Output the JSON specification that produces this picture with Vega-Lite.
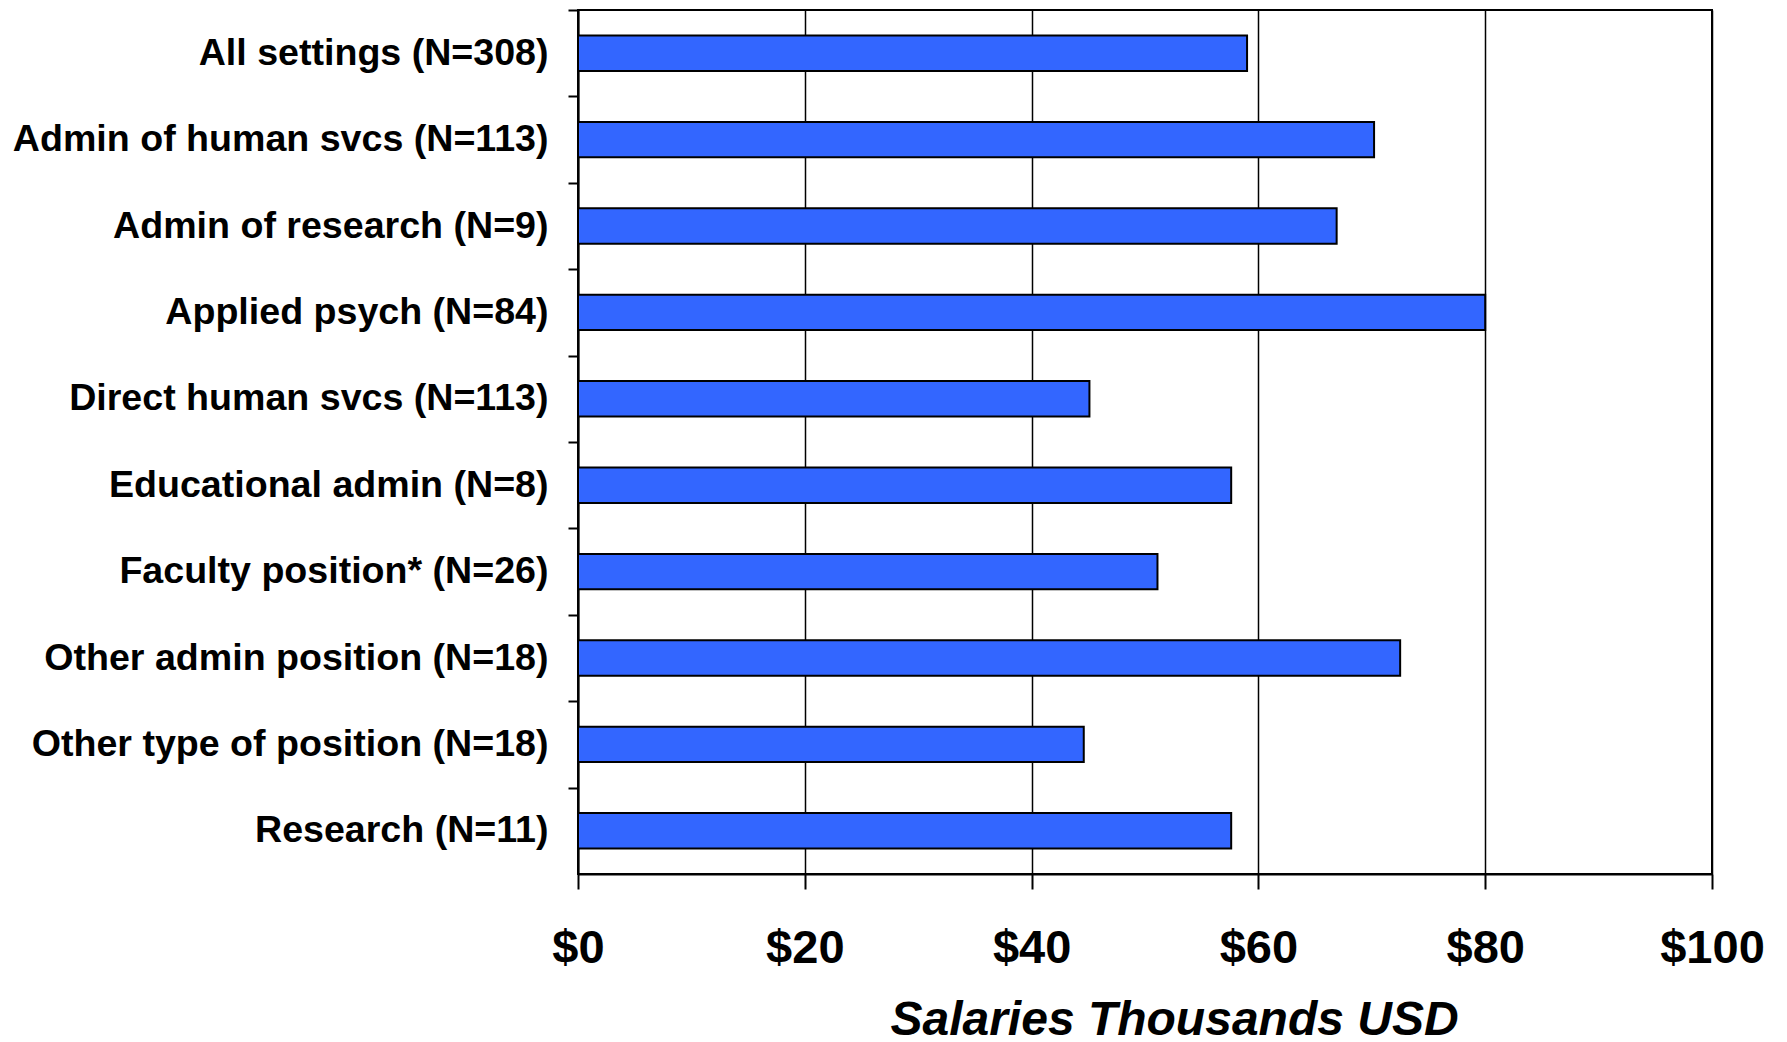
{
  "$schema": "https://vega.github.io/schema/vega-lite/v6.json",
  "width": 1134,
  "height": 864,
  "autosize": {"type": "none"},
  "padding": {"left": 578, "top": 10, "right": 75, "bottom": 168},
  "background": "white",
  "config": {
    "view": {"stroke": "black", "strokeWidth": 2},
    "font": "Liberation Sans"
  },
  "data": {
    "values": [
      {"setting": "All settings (N=308)", "salary": 59.0},
      {"setting": "Admin of human svcs (N=113)", "salary": 70.2},
      {"setting": "Admin of research (N=9)", "salary": 66.9},
      {"setting": "Applied psych (N=84)", "salary": 80.0},
      {"setting": "Direct human svcs (N=113)", "salary": 45.1},
      {"setting": "Educational admin (N=8)", "salary": 57.6},
      {"setting": "Faculty position* (N=26)", "salary": 51.1},
      {"setting": "Other admin position (N=18)", "salary": 72.5},
      {"setting": "Other type of position (N=18)", "salary": 44.6},
      {"setting": "Research (N=11)", "salary": 57.6}
    ]
  },
  "mark": {"type": "bar", "color": "#3366FF", "stroke": "black", "strokeWidth": 2},
  "encoding": {
    "y": {
      "field": "setting",
      "type": "nominal",
      "sort": null,
      "scale": {"paddingInner": 0.59, "paddingOuter": 0.295},
      "axis": {
        "title": null,
        "tickOffset": -43.2,
        "labelOffset": 43.2,
        "tickSize": 10,
        "tickColor": "black",
        "tickWidth": 2,
        "domainColor": "black",
        "domainWidth": 2,
        "labelFont": "Liberation Sans",
        "labelFontWeight": "bold",
        "labelFontSize": 37.6,
        "labelColor": "black",
        "labelPadding": 20,
        "labelLimit": 700
      }
    },
    "x": {
      "field": "salary",
      "type": "quantitative",
      "scale": {"domain": [0, 100], "nice": false},
      "axis": {
        "values": [0, 20, 40, 60, 80, 100],
        "labelExpr": "'$' + datum.value",
        "grid": true,
        "gridColor": "black",
        "gridWidth": 1.5,
        "gridOpacity": 1,
        "tickSize": 15,
        "tickColor": "black",
        "tickWidth": 2,
        "domainColor": "black",
        "domainWidth": 2,
        "labelFont": "Liberation Sans",
        "labelFontWeight": "bold",
        "labelFontSize": 47,
        "labelColor": "black",
        "labelPadding": 36,
        "labelFlush": false,
        "labelOverlap": false,
        "title": "Salaries Thousands USD",
        "titleFont": "Liberation Sans",
        "titleFontWeight": "bold",
        "titleFontStyle": "italic",
        "titleFontSize": 48,
        "titleColor": "black",
        "titleX": 596,
        "titleY": 160,
        "titleAlign": "center",
        "titleBaseline": "alphabetic"
      }
    }
  }
}
